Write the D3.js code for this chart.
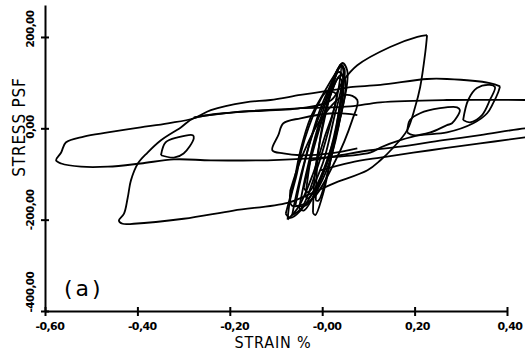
<!DOCTYPE html>
<html>
<head>
<meta charset="utf-8">
<script src="https://cdn.jsdelivr.net/npm/d3@7"></script>
<style>
  body { margin: 0; background: #fff; }
  #chart { width: 525px; height: 355px; }
</style>
</head>
<body>
<div id="chart"></div>
<script>
// axis ticks
const xTicks = [-0.6, -0.4, -0.2, 0, 0.2, 0.4];
const xTickLabels = ["-0,60", "-0,40", "-0,20", "-0,00", "0,20", "0,40"];
const yTicks = [-400, -200, 0, 200];
const yTickLabels = ["-400,00", "-200,00", "0,00", "200,00"];

// traced loops, [strain %, stress psf]
const outerLeftLoop = [
  [0.385, 92], [0.363, 99], [0.270, 108], [0.227, 108], [0.126, 95], [0.061, 90],
  [0.024, 84], [-0.047, 73], [-0.112, 62], [-0.166, 57], [-0.241, 40], [-0.278, 22],
  [-0.334, 11], [-0.393, 2], [-0.464, -9], [-0.516, -18], [-0.555, -31], [-0.565, -53],
  [-0.576, -70], [-0.565, -77], [-0.522, -84], [-0.464, -84], [-0.393, -77],
  [-0.321, -68], [-0.241, -70], [-0.118, -70], [-0.025, -66], [0.104, -53],
  [0.126, -42], [0.169, -26], [0.212, -15], [0.270, -9], [0.327, 11], [0.357, 33],
  [0.370, 55], [0.381, 79], [0.385, 92]
];
const diagonalLoop = [
  [0.227, 204], [0.223, 165], [0.212, 90], [0.201, 46], [0.184, -4], [0.154, -42],
  [0.126, -70], [0.098, -92], [0.024, -121], [-0.025, -143], [-0.075, -163],
  [-0.192, -180], [-0.300, -198], [-0.408, -209], [-0.432, -209], [-0.440, -202],
  [-0.429, -187], [-0.421, -152], [-0.414, -114], [-0.399, -77], [-0.378, -53],
  [-0.349, -26], [-0.306, 2], [-0.278, 22], [-0.192, 35], [-0.047, 44], [0.020, 62],
  [0.046, 105], [0.076, 138], [0.147, 178], [0.206, 200], [0.227, 204]
];
const rightRunUpper = [
  [-0.278, 24], [-0.192, 35], [-0.047, 44], [0.061, 48], [0.126, 57], [0.270, 62],
  [0.439, 62], [0.471, 62]
];
const rightRunLowerA = [
  [0.471, 2], [0.439, 0], [0.342, -15], [0.262, -26], [0.169, -40], [0.104, -48],
  [0.039, -59], [-0.025, -70]
];
const rightRunLowerB = [
  [0.471, -15], [0.439, -20], [0.342, -33], [0.234, -48], [0.126, -64], [0.061, -75],
  [-0.004, -92]
];
const middleLoop = [
  [0.076, 29], [0.024, 33], [-0.047, 22], [-0.084, 11], [-0.095, -15], [-0.108, -48],
  [-0.084, -55], [-0.047, -59], [0.018, -55], [0.076, -44]
];
const smallLoopLeft = [
  [-0.349, -59], [-0.339, -31], [-0.313, -20], [-0.280, -15], [-0.278, -22],
  [-0.300, -55], [-0.321, -64], [-0.349, -59]
];
const smallLoopRightA = [
  [0.184, -9], [0.190, 18], [0.212, 33], [0.255, 44], [0.292, 46], [0.298, 40],
  [0.281, 11], [0.270, 7], [0.234, -9], [0.197, -15], [0.184, -9]
];
const smallLoopRightB = [
  [0.305, 18], [0.316, 62], [0.335, 88], [0.363, 95], [0.374, 90], [0.363, 62],
  [0.346, 29], [0.320, 13], [0.305, 18]
];
const coreLoopA = [
  [-0.079, -187], [-0.062, -121], [-0.047, -48], [-0.025, 24], [0.003, 77], [0.033, 127],
  [0.044, 143], [0.054, 127], [0.054, 99], [0.039, 24], [0.018, -48], [-0.010, -121],
  [-0.047, -180], [-0.069, -196], [-0.079, -187]
];
const coreLoopB = [
  [-0.058, -169], [-0.047, -114], [-0.025, -26], [0.007, 62], [0.035, 132], [0.044, 138],
  [0.046, 84], [0.029, -26], [0.000, -114], [-0.036, -169], [-0.058, -169]
];
const coreLoopC = [
  [-0.014, -158], [-0.008, -48], [0.013, 62], [0.035, 123], [0.044, 116], [0.035, 18],
  [0.013, -92], [-0.008, -158], [-0.014, -158]
];
const coreLoopD = [
  [-0.036, -147], [-0.021, -48], [0.007, 40], [0.039, 116], [0.050, 105], [0.033, -4],
  [0.000, -103], [-0.032, -154], [-0.036, -147]
];
const coreLoopE = [
  [-0.069, -136], [-0.047, -70], [-0.004, 18], [0.050, 73], [0.076, 62], [0.065, 18],
  [0.029, -70], [-0.025, -158], [-0.066, -169], [-0.069, -136]
];
const coreLoopF = [
  [-0.050, -175], [-0.035, -100], [-0.010, 0], [0.020, 90], [0.040, 135], [0.048, 130],
  [0.040, 60], [0.020, -40], [-0.010, -130], [-0.040, -180], [-0.050, -175]
];
const coreLoopG = [
  [-0.020, -185], [-0.015, -90], [0.005, 20], [0.025, 100], [0.040, 140], [0.046, 125],
  [0.038, 50], [0.020, -60], [0.000, -150], [-0.015, -190], [-0.020, -185]
];
const coreLoopH = [
  [-0.040, -130], [-0.020, -50], [0.010, 50], [0.035, 110], [0.042, 105], [0.025, 20],
  [0.000, -80], [-0.030, -140], [-0.040, -130]
];
const coreLoopI = [
  [-0.065, -190], [-0.055, -140], [-0.035, -60], [-0.005, 40], [0.025, 110], [0.040, 140],
  [0.036, 90], [0.015, 0], [-0.015, -100], [-0.045, -175], [-0.065, -190]
];
const coreLoopJ = [
  [-0.075, -200], [-0.070, -160], [-0.055, -100], [-0.045, -50], [-0.030, 0], [-0.010, 50],
  [0.010, 80], [0.030, 75], [0.025, 40], [0.005, -20], [-0.020, -100], [-0.050, -170],
  [-0.075, -200]
];

const loops = [
  outerLeftLoop, diagonalLoop, rightRunUpper, rightRunLowerA, rightRunLowerB,
  middleLoop, smallLoopLeft, smallLoopRightA, smallLoopRightB,
  coreLoopA, coreLoopB, coreLoopC, coreLoopD, coreLoopE,
  coreLoopF, coreLoopG, coreLoopH, coreLoopI, coreLoopJ
];

const config = {
  width: 525,
  height: 355,
  originX: 45,
  originY: 311,
  xEnd: 507,
  yTop: 5,
  tickSize: 4,
  labelFont: "'DejaVu Sans', sans-serif",
  titleFont: "'DejaVu Sans Condensed', 'DejaVu Sans', sans-serif",
  ink: "#000",
};

const svg = d3.select("#chart")
  .append("svg")
  .attr("width", config.width)
  .attr("height", config.height)
  .style("display", "block");

// scales: 200 psf sits at y=37, axis line runs on up to y=5
const x = d3.scaleLinear().domain([-0.6, 0.4]).range([config.originX, config.xEnd]);
const y = d3.scaleLinear().domain([-400, 270]).range([config.originY, config.yTop]);

// x axis with cross ticks
const xAxis = d3.axisBottom(x)
  .tickValues(xTicks)
  .tickFormat((d, i) => xTickLabels[i])
  .tickSizeInner(config.tickSize + 1)
  .tickSizeOuter(0);
const gx = svg.append("g")
  .attr("class", "xAxis")
  .attr("transform", `translate(0,${config.originY})`)
  .call(xAxis);
svg.append("g")
  .attr("class", "xAxisUp")
  .attr("transform", `translate(0,${config.originY})`)
  .call(d3.axisTop(x).tickValues(xTicks).tickFormat("").tickSizeInner(config.tickSize).tickSizeOuter(0))
  .select(".domain").remove();

gx.selectAll("text")
  .attr("text-anchor", "start")
  .attr("dx", -10)
  .attr("y", 19)
  .attr("dy", null)
  .style("font-family", config.labelFont)
  .style("font-weight", "bold")
  .style("font-size", "11px")
  .style("letter-spacing", "-0.6px")
  .style("fill", config.ink);

// y axis with cross ticks, labels turned
const yAxis = d3.axisLeft(y)
  .tickValues(yTicks)
  .tickFormat((d, i) => yTickLabels[i])
  .tickSizeInner(config.tickSize)
  .tickSizeOuter(0);
const gy = svg.append("g")
  .attr("class", "yAxis")
  .attr("transform", `translate(${config.originX},0)`)
  .call(yAxis);
svg.append("g")
  .attr("class", "yAxisRight")
  .attr("transform", `translate(${config.originX},0)`)
  .call(d3.axisRight(y).tickValues(yTicks).tickFormat("").tickSizeInner(config.tickSize).tickSizeOuter(0))
  .select(".domain").remove();

gy.selectAll("text")
  .attr("x", null)
  .attr("dy", null)
  .attr("text-anchor", "start")
  .attr("transform", (d) => `translate(-11,${Math.min(10, config.originY + 1 - y(d))}) rotate(-90)`)
  .style("font-family", config.labelFont)
  .style("font-weight", "bold")
  .style("font-size", "10.5px")
  .style("letter-spacing", "-0.6px")
  .style("fill", config.ink);

svg.selectAll(".domain, .tick line")
  .attr("stroke", config.ink)
  .attr("stroke-width", 2);

// axis titles
svg.append("text")
  .attr("transform", `translate(25,127) rotate(-90)`)
  .attr("text-anchor", "middle")
  .style("font-family", config.titleFont)
  .style("font-size", "17px")
  .style("letter-spacing", "0.8px")
  .style("fill", config.ink)
  .text("STRESS PSF");

svg.append("text")
  .attr("x", 273)
  .attr("y", 348)
  .attr("text-anchor", "middle")
  .style("font-family", config.titleFont)
  .style("font-size", "16px")
  .style("letter-spacing", "0.8px")
  .style("fill", config.ink)
  .text("STRAIN %");

svg.append("text")
  .attr("x", 64)
  .attr("y", 296)
  .style("font-family", "'DejaVu Sans', sans-serif")
  .style("font-size", "22px")
  .style("letter-spacing", "3px")
  .style("fill", config.ink)
  .text("(a)");

// hysteresis loops
const line = d3.line()
  .x((d) => x(d[0]))
  .y((d) => y(d[1]))
  .curve(d3.curveCatmullRom.alpha(0.5));

svg.append("g")
  .attr("class", "loops")
  .selectAll("path")
  .data(loops)
  .enter()
  .append("path")
  .attr("d", line)
  .attr("fill", "none")
  .attr("stroke", config.ink)
  .attr("stroke-width", 1.8)
  .attr("stroke-linejoin", "round");
</script>
</body>
</html>
